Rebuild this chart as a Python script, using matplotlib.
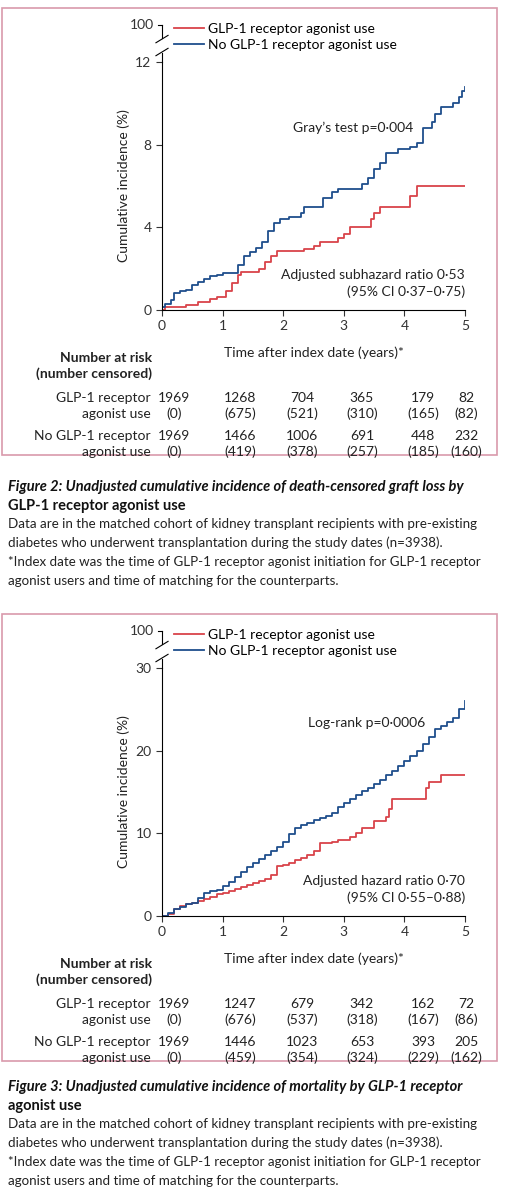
import matplotlib
matplotlib.use("Agg")
import matplotlib.pyplot as plt
from matplotlib.patches import Rectangle

plt.rcParams['font.family'] = ['Lato', 'DejaVu Sans']

RED = '#d9434a'; BLUE = '#1f4e8c'; PINK = '#d99aab'
W, H = 505, 1200

# ---- data ----
times = [0, 1, 2, 3, 4, 5]
g_t2 = [0,0.05,0.4,0.6,0.8,0.9,1.05,1.15,1.25,1.3,1.6,1.7,1.8,1.9,2.35,2.5,2.6,2.9,3.0,3.1,3.45,3.5,3.6,4.1,4.2,5.0]
g_y2 = [0,0.15,0.25,0.4,0.55,0.65,0.9,1.3,1.7,1.85,2.0,2.3,2.6,2.85,2.95,3.1,3.3,3.5,3.7,4.0,4.4,4.7,5.0,5.5,6.0,6.0]
n_t2 = [0,0.05,0.15,0.2,0.3,0.4,0.5,0.6,0.7,0.8,0.9,1.0,1.25,1.35,1.45,1.55,1.65,1.75,1.85,1.95,2.1,2.3,2.35,2.65,2.8,2.9,3.3,3.4,3.5,3.6,3.7,3.9,4.1,4.2,4.3,4.45,4.5,4.6,4.8,4.9,4.95,5.0]
n_y2 = [0.15,0.3,0.5,0.8,0.9,0.95,1.2,1.35,1.5,1.65,1.7,1.8,2.2,2.6,2.8,3.0,3.3,3.8,4.2,4.4,4.5,4.7,5.0,5.4,5.7,5.85,6.1,6.4,6.8,7.1,7.6,7.8,7.9,8.1,8.8,9.1,9.5,9.8,10.0,10.3,10.6,10.8]
g_t3 = [0,0.1,0.2,0.3,0.4,0.5,0.6,0.7,0.8,0.9,1.0,1.1,1.2,1.3,1.4,1.5,1.6,1.7,1.8,1.9,2.0,2.1,2.2,2.3,2.4,2.5,2.6,2.8,2.9,3.1,3.2,3.3,3.5,3.7,3.75,3.8,4.35,4.4,4.6,5.0]
g_y3 = [0,0.3,0.8,1.2,1.4,1.6,1.8,2.0,2.3,2.7,2.8,3.0,3.3,3.5,3.7,4.0,4.2,4.5,5.0,6.0,6.2,6.4,6.8,7.0,7.4,7.9,8.8,9.0,9.2,9.6,10.0,10.7,11.5,12.0,13.0,14.2,15.5,16.2,17.0,17.0]
n_t3 = [0,0.1,0.2,0.3,0.4,0.5,0.6,0.7,0.8,0.9,1.0,1.1,1.2,1.3,1.4,1.5,1.6,1.7,1.8,1.9,2.0,2.1,2.2,2.3,2.4,2.5,2.6,2.7,2.8,2.9,3.0,3.1,3.2,3.3,3.4,3.5,3.6,3.7,3.8,3.9,4.0,4.1,4.2,4.3,4.4,4.5,4.6,4.7,4.8,4.9,5.0]
n_y3 = [0,0.4,0.8,1.1,1.4,1.6,2.2,2.8,3.0,3.2,3.6,4.1,4.7,5.3,5.9,6.4,6.9,7.4,7.9,8.4,9.0,9.9,10.6,11.0,11.3,11.6,11.8,12.1,12.5,13.2,13.7,14.2,14.6,15.1,15.5,16.0,16.5,17.0,17.6,18.2,18.7,19.3,20.0,20.8,21.6,22.6,23.0,23.5,24.0,25.0,26.0]

risk2 = [["1969","1268","704","365","179","82"], ["(0)","(675)","(521)","(310)","(165)","(82)"],
         ["1969","1466","1006","691","448","232"], ["(0)","(419)","(378)","(257)","(185)","(160)"]]
risk3 = [["1969","1247","679","342","162","72"], ["(0)","(676)","(537)","(318)","(167)","(86)"],
         ["1969","1446","1023","653","393","205"], ["(0)","(459)","(354)","(324)","(229)","(162)"]]
row_labels = ["GLP-1 receptor", "agonist use", "No GLP-1 receptor", "agonist use"]
col_px = [174, 240, 302, 362, 423, 466]

fig = plt.figure(figsize=(W/100, H/100), dpi=100)

def fx(px): return px / W
def fy(py): return 1 - py / H

body = ["Data are in the matched cohort of kidney transplant recipients with pre-existing",
        "diabetes who underwent transplantation during the study dates (n=3938).",
        "*Index date was the time of GLP-1 receptor agonist initiation for GLP-1 receptor",
        "agonist users and time of matching for the counterparts."]

def panel(top, ymax, yticks, gt, gy, nt, ny, stat, stat_xy, hr, ci, risk, cap_title, cap_top):
    fig.patches.append(Rectangle((fx(2), fy(top + 447)), fx(495), 447 / H, transform=fig.transFigure,
                                 fill=False, ec=PINK, lw=1.2))
    y0 = top + 302; ytop = top + 54; y100 = top + 17
    ax = fig.add_axes([fx(162), fy(y0), fx(303), (y0 - ytop) / H])
    ax.step(gt, gy, where='post', color=RED, lw=1.3, label='GLP-1 receptor agonist use')
    ax.step(nt, ny, where='post', color=BLUE, lw=1.3, label='No GLP-1 receptor agonist use')
    ax.set_xlim(0, 5); ax.set_ylim(0, ymax)
    ax.set_xticks(times); ax.set_yticks(yticks)
    ax.tick_params(labelsize=10, color='#333', labelcolor='#333', length=4)
    for s in ['top', 'right']: ax.spines[s].set_visible(False)
    ax.set_xlabel('Time after index date (years)*', fontsize=10, color='#222', labelpad=10)
    ax.set_ylabel('Cumulative incidence (%)', fontsize=10, color='#222')
    fr = (ytop - y100) / (y0 - ytop)
    ax.plot([0, 0], [1, 1 + fr*0.25], transform=ax.transAxes, color='k', lw=0.8, clip_on=False)
    ax.plot([0, 0], [1 + fr*0.65, 1 + fr], transform=ax.transAxes, color='k', lw=0.8, clip_on=False)
    ax.plot([-0.013, 0], [1 + fr, 1 + fr], transform=ax.transAxes, color='k', lw=0.8, clip_on=False)
    for yy in (0.25, 0.6):
        ax.plot([-0.02, 0.02], [1 + fr*(yy - 0.08), 1 + fr*(yy + 0.12)], transform=ax.transAxes,
                color='k', lw=0.8, clip_on=False)
    ax.text(-0.025, 1 + fr, '100', transform=ax.transAxes, ha='right', va='center', fontsize=10, color='#333')
    ax.legend(loc='upper left', bbox_to_anchor=(0.02, 1 + fr*1.2), frameon=False, fontsize=10,
              handlelength=2.2, handletextpad=0.3, labelspacing=0.25, borderaxespad=0)
    ax.text(stat_xy[0], ymax*stat_xy[1], stat, ha='right', va='center', fontsize=10, color='#222')
    ax.text(5, ymax*0.143, hr, ha='right', va='center', fontsize=10, color='#222')
    ax.text(5, ymax*0.072, ci, ha='right', va='center', fontsize=10, color='#222')
    fig.text(fx(152), fy(top + 350), 'Number at risk', ha='right', va='center', fontsize=10, weight='bold', color='#222')
    fig.text(fx(152), fy(top + 366), '(number censored)', ha='right', va='center', fontsize=10, weight='bold', color='#222')
    rows_y = [top + 390, top + 406, top + 428, top + 444]
    for r, yy in enumerate(rows_y):
        fig.text(fx(151), fy(yy), row_labels[r], ha='right', va='center', fontsize=10, color='#222')
        for i, v in enumerate(risk[r]):
            fig.text(fx(col_px[i]), fy(yy), v, ha='center', va='center', fontsize=10, color='#222')
    fig.text(fx(8), fy(cap_top), cap_title[0], ha='left', va='center', fontsize=10.5, weight='bold', style='italic', color='#111')
    fig.text(fx(8), fy(cap_top + 19), cap_title[1], ha='left', va='center', fontsize=10.5, weight='bold', color='#111')
    for k, b in enumerate(body):
        fig.text(fx(8), fy(cap_top + 37 + 19*k), b, ha='left', va='center', fontsize=9.6, color='#222')

panel(8, 12, [0, 4, 8, 12], g_t2, g_y2, n_t2, n_y2, 'Gray\u2019s test p=0\u00b7004', (4.15, 0.735),
      'Adjusted subhazard ratio 0\u00b753', '(95% CI 0\u00b737\u20130\u00b775)', risk2,
      ["Figure 2: Unadjusted cumulative incidence of death-censored graft loss by",
       "GLP-1 receptor agonist use"], 487)
panel(614, 30, [0, 10, 20, 30], g_t3, g_y3, n_t3, n_y3, 'Log-rank p=0\u00b70006', (4.34, 0.777),
      'Adjusted hazard ratio 0\u00b770', '(95% CI 0\u00b755\u20130\u00b788)', risk3,
      ["Figure 3: Unadjusted cumulative incidence of mortality by GLP-1 receptor",
       "agonist use"], 1087)

fig.savefig('out.png', dpi=100)
